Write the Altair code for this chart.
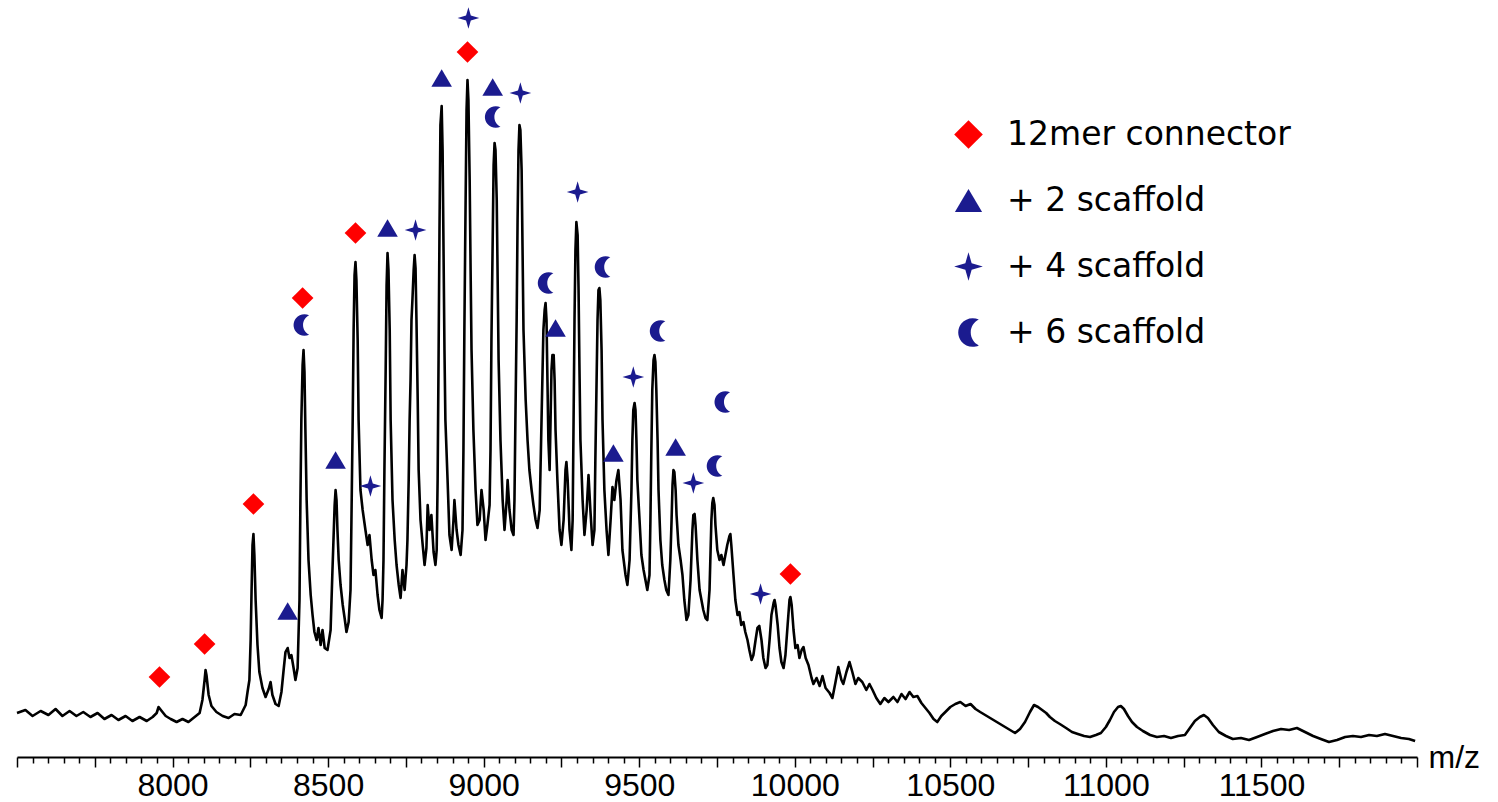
import altair as alt
import pandas as pd

# ---------------- spectrum trace (m/z, intensity a.u.) ----------------
spectrum_mz = [
    7500, 7527, 7550, 7576, 7601, 7624, 7646, 7669, 7691, 7713, 7736, 7759, 7781, 7804, 7826, 7849,
    7871, 7894, 7917, 7936, 7949, 7955, 7965, 7978, 7994, 8013, 8032, 8051, 8071, 8087, 8096, 8103,
    8106, 8109, 8116, 8125, 8141, 8161, 8180, 8199, 8219, 8235, 8241, 8247, 8251, 8254, 8257, 8260,
    8263, 8267, 8273, 8279, 8289, 8299, 8309, 8315, 8321, 8331, 8341, 8350, 8357, 8363, 8370, 8376,
    8382, 8389, 8395, 8402, 8408, 8411, 8414, 8418, 8421, 8424, 8427, 8431, 8437, 8444, 8450, 8456,
    8463, 8469, 8476, 8482, 8489, 8498, 8508, 8514, 8521, 8524, 8527, 8530, 8534, 8540, 8547, 8553,
    8559, 8566, 8572, 8575, 8579, 8582, 8585, 8588, 8591, 8595, 8598, 8604, 8611, 8620, 8627, 8633,
    8640, 8646, 8652, 8659, 8665, 8672, 8675, 8678, 8681, 8685, 8688, 8691, 8694, 8698, 8701, 8707,
    8714, 8720, 8727, 8733, 8739, 8746, 8752, 8755, 8759, 8762, 8765, 8768, 8771, 8775, 8778, 8781,
    8784, 8788, 8791, 8797, 8804, 8810, 8816, 8820, 8826, 8832, 8839, 8845, 8849, 8852, 8855, 8858,
    8861, 8865, 8868, 8871, 8874, 8877, 8884, 8890, 8897, 8903, 8906, 8913, 8919, 8926, 8932, 8935,
    8938, 8942, 8945, 8948, 8951, 8955, 8958, 8961, 8967, 8974, 8980, 8987, 8993, 9000, 9006, 9012,
    9019, 9022, 9025, 9029, 9032, 9035, 9038, 9042, 9045, 9048, 9054, 9061, 9067, 9074, 9077, 9083,
    9090, 9096, 9099, 9102, 9106, 9109, 9112, 9115, 9118, 9122, 9125, 9128, 9135, 9141, 9147, 9154,
    9160, 9167, 9173, 9180, 9186, 9192, 9196, 9199, 9202, 9205, 9208, 9212, 9215, 9218, 9221, 9225,
    9228, 9231, 9237, 9244, 9250, 9257, 9263, 9266, 9270, 9276, 9282, 9286, 9289, 9292, 9295, 9298,
    9302, 9305, 9308, 9311, 9318, 9324, 9331, 9337, 9343, 9350, 9356, 9359, 9363, 9366, 9369, 9372,
    9375, 9379, 9382, 9388, 9395, 9401, 9408, 9414, 9420, 9427, 9433, 9440, 9446, 9456, 9462, 9469,
    9475, 9478, 9481, 9485, 9488, 9491, 9494, 9501, 9507, 9514, 9520, 9526, 9533, 9536, 9539, 9542,
    9546, 9549, 9552, 9555, 9559, 9562, 9568, 9574, 9581, 9587, 9594, 9600, 9604, 9607, 9610, 9613,
    9617, 9620, 9626, 9633, 9639, 9645, 9652, 9658, 9665, 9671, 9674, 9678, 9681, 9687, 9694, 9700,
    9706, 9713, 9719, 9726, 9732, 9735, 9738, 9742, 9745, 9751, 9758, 9764, 9771, 9777, 9783, 9790,
    9793, 9796, 9803, 9809, 9816, 9822, 9828, 9835, 9841, 9848, 9854, 9861, 9867, 9874, 9880, 9886,
    9893, 9899, 9906, 9912, 9919, 9925, 9932, 9935, 9938, 9945, 9951, 9957, 9964, 9970, 9977, 9983,
    9986, 9990, 9996, 10002, 10009, 10015, 10022, 10028, 10035, 10044, 10054, 10060, 10070, 10080, 10089, 10099,
    10112, 10121, 10131, 10140, 10150, 10156, 10166, 10176, 10185, 10195, 10204, 10217, 10230, 10240, 10250, 10262,
    10275, 10288, 10301, 10317, 10330, 10343, 10356, 10369, 10381, 10394, 10407, 10420, 10433, 10446, 10458, 10471,
    10484, 10500, 10516, 10532, 10549, 10565, 10581, 10596, 10612, 10628, 10644, 10660, 10676, 10692, 10708, 10724,
    10740, 10756, 10769, 10782, 10795, 10808, 10820, 10836, 10852, 10872, 10891, 10910, 10930, 10949, 10968, 10984,
    11000, 11013, 11026, 11039, 11048, 11058, 11071, 11084, 11100, 11119, 11142, 11164, 11187, 11209, 11232, 11254,
    11270, 11286, 11302, 11315, 11328, 11344, 11363, 11386, 11408, 11434, 11460, 11486, 11511, 11537, 11563, 11589,
    11614, 11640, 11666, 11691, 11717, 11743, 11769, 11794, 11820, 11846, 11871, 11897, 11923, 11949, 11974, 11994,
]
spectrum_int = [
    44, 47, 41, 46, 42, 48, 41, 46, 41, 45, 40, 44, 38, 42, 37, 41,
    36, 40, 36, 40, 44, 50, 46, 41, 38, 35, 38, 35, 40, 44, 57, 77,
    87, 82, 62, 51, 45, 41, 39, 43, 42, 52, 65, 77, 117, 167, 212, 223,
    202, 157, 112, 85, 69, 60, 68, 75, 62, 53, 51, 65, 87, 105, 109, 99,
    102, 89, 77, 89, 157, 257, 337, 392, 407, 385, 327, 257, 197, 162, 142, 125,
    117, 129, 112, 127, 109, 107, 127, 187, 252, 267, 257, 227, 197, 172, 152, 139,
    125, 135, 167, 237, 337, 427, 482, 495, 477, 417, 337, 267, 247, 227, 212, 222,
    197, 182, 187, 162, 147, 139, 157, 197, 287, 387, 472, 504, 487, 427, 337, 257,
    217, 192, 172, 159, 187, 167, 192, 217, 277, 337, 377, 437, 457, 487, 502, 489,
    437, 357, 287, 237, 212, 192, 209, 252, 227, 242, 205, 192, 207, 277, 397, 527,
    632, 651, 607, 507, 407, 337, 277, 222, 207, 237, 257, 227, 212, 202, 227, 307,
    427, 557, 647, 677, 657, 577, 487, 407, 327, 267, 232, 237, 267, 247, 217, 232,
    252, 307, 417, 517, 592, 614, 607, 557, 477, 397, 317, 257, 227, 257, 277, 247,
    227, 222, 257, 337, 437, 537, 607, 632, 627, 587, 507, 427, 357, 317, 287, 267,
    252, 237, 229, 247, 337, 427, 447, 454, 437, 377, 317, 287, 337, 387, 402, 402,
    377, 327, 277, 227, 212, 237, 287, 295, 277, 227, 207, 237, 337, 437, 507, 535,
    522, 467, 387, 317, 257, 222, 247, 282, 247, 212, 227, 297, 377, 437, 467, 469,
    457, 407, 337, 267, 227, 202, 237, 270, 257, 277, 287, 257, 207, 182, 172, 197,
    267, 317, 347, 354, 347, 317, 277, 237, 202, 187, 177, 167, 182, 237, 307, 367,
    397, 402, 395, 367, 317, 267, 217, 192, 177, 167, 162, 197, 237, 272, 287, 285,
    267, 242, 212, 197, 182, 157, 137, 142, 177, 227, 242, 243, 232, 197, 167, 157,
    147, 139, 137, 167, 237, 254, 259, 252, 232, 207, 197, 202, 192, 202, 212, 221,
    223, 212, 182, 157, 142, 145, 132, 135, 125, 117, 107, 97, 102, 117, 129, 131,
    117, 99, 89, 92, 117, 142, 154, 157, 152, 132, 109, 95, 89, 102, 132, 157,
    160, 152, 127, 109, 112, 99, 107, 110, 99, 92, 79, 73, 79, 71, 81, 69,
    64, 59, 75, 90, 77, 73, 85, 95, 85, 73, 79, 75, 67, 73, 67, 59,
    53, 59, 55, 60, 55, 63, 58, 65, 60, 61, 54, 49, 44, 38, 35, 41,
    45, 50, 53, 55, 51, 53, 48, 45, 42, 39, 36, 33, 30, 27, 24, 28,
    35, 45, 52, 50, 47, 44, 40, 36, 33, 29, 25, 23, 21, 20, 22, 24,
    30, 37, 45, 50, 51, 48, 41, 35, 30, 26, 22, 20, 21, 19, 21, 22,
    29, 36, 40, 42, 39, 32, 25, 21, 18, 19, 17, 20, 23, 26, 28, 27,
    29, 25, 21, 18, 15, 17, 20, 21, 20, 22, 21, 23, 21, 19, 18, 16,
]

# ---------------- peak annotations ----------------
ion_labels = ["12mer connector", "+ 2 scaffold", "+ 4 scaffold", "+ 6 scaffold"]

connector_mz = [7958, 8103, 8260, 8418, 8588, 8948, 9986]
connector_int = [80, 113, 253, 459, 524, 705, 183]

scaffold2_mz = [8370, 8524, 8691, 8865, 9029, 9231, 9417, 9617]
scaffold2_int = [146, 297, 529, 679, 670, 429, 304, 310]

scaffold4_mz = [8636, 8781, 8951, 9118, 9302, 9481, 9674, 9890]
scaffold4_int = [271, 527, 739, 664, 565, 380, 274, 163]

scaffold6_mz = [8414, 9029, 9199, 9382, 9559, 9742, 9767]
scaffold6_int = [432, 640, 474, 490, 426, 291, 355]

minor_tick_values = list(range(7500, 12001, 50))

# symbol shapes (unit paths) and colours
shape_paths = [
    "M0,-1L1,0L0,1L-1,0Z",
    "M0,-0.8L0.95,0.8L-0.95,0.8Z",
    "M0,-1L0.22,-0.22L1,0L0.22,0.22L0,1L-0.22,0.22L-1,0L-0.22,-0.22Z",
    "M0.72,-0.9A1,1 0 1,0 0.72,0.9A1,1 0 0,1 0.72,-0.9Z",
]
shape_colors = ["#ff0000", "#1b1b8f", "#1b1b8f", "#1b1b8f"]

spec_df = pd.DataFrame({"mz": spectrum_mz, "intensity": spectrum_int})
ion_df = pd.concat([
    pd.DataFrame({"mz": connector_mz, "intensity": connector_int, "ion": ion_labels[0]}),
    pd.DataFrame({"mz": scaffold2_mz, "intensity": scaffold2_int, "ion": ion_labels[1]}),
    pd.DataFrame({"mz": scaffold4_mz, "intensity": scaffold4_int, "ion": ion_labels[2]}),
    pd.DataFrame({"mz": scaffold6_mz, "intensity": scaffold6_int, "ion": ion_labels[3]}),
], ignore_index=True)

x_scale = alt.Scale(domain=[7500, 12000], nice=False, zero=False)
y_scale = alt.Scale(domain=[0, 757], nice=False, zero=True)

x_axis = alt.Axis(
    values=minor_tick_values,
    tickSize={"condition": {"test": "datum.value % 250 === 0", "value": 10}, "value": 6},
    labelExpr="(datum.value % 500 === 0 && datum.value > 7500 && datum.value < 12000) ? datum.label : ''",
    format="d",
    labelOverlap=False,
    labelFlush=False,
    labelBound=False,
    labelFont="Liberation Sans",
    labelFontSize=32,
    labelColor="black",
    labelPadding=3,
    domainColor="black",
    domainWidth=2,
    tickColor="black",
    tickWidth=1.5,
    grid=False,
    title="m/z",
    titleFont="Liberation Sans",
    titleFontSize=32,
    titleFontWeight="normal",
    titleColor="black",
    titleAngle=0,
    titleX=1411,
    titleY=0,
    titleAlign="left",
    titleBaseline="middle",
)

line = alt.Chart(spec_df).mark_line(
    color="black", strokeWidth=2.6, strokeJoin="round"
).encode(
    x=alt.X("mz:Q", scale=x_scale, axis=x_axis),
    y=alt.Y("intensity:Q", scale=y_scale, axis=None),
)

legend = alt.Legend(title=None)

marks = alt.Chart(ion_df).mark_point(
    filled=True, opacity=1, size=470, strokeWidth=0
).encode(
    x=alt.X("mz:Q", scale=x_scale, axis=x_axis),
    y=alt.Y("intensity:Q", scale=y_scale, axis=None),
    shape=alt.Shape("ion:N", scale=alt.Scale(domain=ion_labels, range=shape_paths), legend=legend),
    color=alt.Color("ion:N", scale=alt.Scale(domain=ion_labels, range=shape_colors), legend=legend),
)

chart = alt.layer(line, marks).properties(
    width=1400,
    height=757,
    padding={"left": 17, "top": 0, "right": 81, "bottom": 45},
    autosize=alt.AutoSizeParams(type="none"),
    background="white",
).configure_view(
    stroke="transparent"
).configure_axis(
    labelOverlap=False
).configure_legend(
    orient="none",
    legendX=935,
    legendY=118,
    padding=0,
    labelFont="DejaVu Sans",
    labelFontSize=33,
    labelColor="black",
    labelOffset=22,
    symbolSize=820,
    symbolStrokeWidth=0,
    symbolOpacity=1,
    rowPadding=32,
    labelLimit=400,
)

chart.save("out.html", embed_options={"renderer": "svg", "actions": False})
